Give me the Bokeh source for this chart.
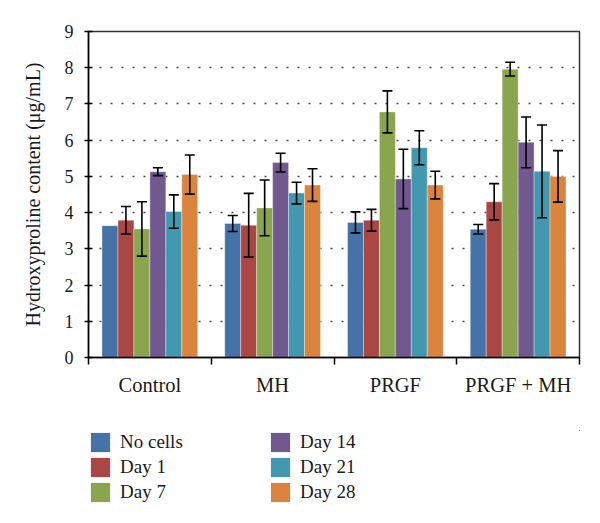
from bokeh.plotting import figure
from bokeh.layouts import column
from bokeh.models import (ColumnDataSource, Whisker, TeeHead, FixedTicker, Legend,
                          LegendItem, Range1d)
from bokeh.embed import file_html
from bokeh.resources import INLINE

groups = ["Control", "MH", "PRGF", "PRGF + MH"]
series = ["No cells", "Day 1", "Day 7", "Day 14", "Day 21", "Day 28"]
colors = ["#4572A7", "#AA4643", "#89A54E", "#71588F", "#4198AF", "#DB843D"]

no_cells = [3.64, 3.70, 3.73, 3.54]
day1 = [3.79, 3.65, 3.79, 4.30]
day7 = [3.55, 4.13, 6.78, 7.96]
day14 = [5.13, 5.38, 4.93, 5.94]
day21 = [4.03, 4.54, 5.79, 5.14]
day28 = [5.05, 4.76, 4.76, 5.00]

err_no_cells = [0.00, 0.22, 0.29, 0.13]
err_day1 = [0.38, 0.88, 0.30, 0.50]
err_day7 = [0.75, 0.77, 0.58, 0.19]
err_day14 = [0.11, 0.26, 0.82, 0.70]
err_day21 = [0.46, 0.30, 0.47, 1.28]
err_day28 = [0.54, 0.45, 0.38, 0.71]

values = [no_cells, day1, day7, day14, day21, day28]
errors = [err_no_cells, err_day1, err_day7, err_day14, err_day21, err_day28]

y_ticks = [0, 1, 2, 3, 4, 5, 6, 7, 8, 9]

FONT = "Liberation Serif"
W = 592

p = figure(width=W, height=418, output_backend="svg", toolbar_location=None,
           x_range=Range1d(0, len(groups)), y_range=Range1d(0, 9),
           min_border_left=88, min_border_right=W - 579, min_border_top=31,
           min_border_bottom=61)

# legend panel (its own small figure below the chart); its copies of the bars
# lie outside its visible ranges, they only provide the legend keys
lg = figure(width=W, height=98, output_backend="svg", toolbar_location=None,
            x_range=Range1d(-1000, -999), y_range=Range1d(-1000, -999),
            min_border_left=71, min_border_right=0, min_border_top=12,
            min_border_bottom=0)
lg.axis.visible = False
lg.grid.visible = False
lg.outline_line_color = None

bar_w = 0.13
n = len(series)
items = []
for k, (name, vals, errs, col) in enumerate(zip(series, values, errors, colors)):
    xs = [gi + 0.5 + (k - (n - 1) / 2) * bar_w for gi in range(len(groups))]
    src = ColumnDataSource(dict(x=xs, top=vals))
    p.vbar(x="x", top="top", width=bar_w, source=src, fill_color=col,
           line_color="white", line_alpha=0.35, line_width=1)
    r = lg.vbar(x="x", top="top", width=bar_w, source=src, fill_color=col,
                line_color=None)
    items.append(LegendItem(label=name, renderers=[r]))
    wsrc = ColumnDataSource(dict(
        x=[x for x, e in zip(xs, errs) if e > 0],
        upper=[v + e for v, e in zip(vals, errs) if e > 0],
        lower=[v - e for v, e in zip(vals, errs) if e > 0]))
    w = Whisker(base="x", upper="upper", lower="lower", source=wsrc,
                level="annotation",
                line_color="black", line_width=1.6,
                upper_head=TeeHead(size=10, line_color="black", line_width=1.6),
                lower_head=TeeHead(size=10, line_color="black", line_width=1.6))
    p.add_layout(w)

# axes
p.xaxis.ticker = FixedTicker(ticks=[i + 0.5 for i in range(len(groups))],
                             minor_ticks=list(range(len(groups) + 1)))
p.xaxis.major_label_overrides = {i + 0.5: g for i, g in enumerate(groups)}
p.xaxis.major_tick_line_color = None
p.xaxis.major_tick_out = 0
p.xaxis.minor_tick_out = 7
p.xaxis.minor_tick_in = 0
p.xaxis.minor_tick_line_color = "black"
p.xaxis.minor_tick_line_width = 1.5
p.xaxis.major_label_standoff = 9
p.xaxis.major_label_text_font = FONT
p.xaxis.major_label_text_font_size = "20.5px"
p.xaxis.major_label_text_color = "#1a1a1a"

p.yaxis.ticker = FixedTicker(ticks=y_ticks)
p.yaxis.minor_tick_line_color = None
p.yaxis.major_tick_in = 4
p.yaxis.major_tick_out = 4
p.yaxis.major_tick_line_width = 1.5
p.yaxis.major_tick_line_color = "black"
p.yaxis.major_label_standoff = 11
p.yaxis.major_label_text_font = FONT
p.yaxis.major_label_text_font_size = "18px"
p.yaxis.major_label_text_color = "#1a1a1a"
p.yaxis.axis_label = "Hydroxyproline content (μg/mL)"
p.yaxis.axis_label_text_font = FONT
p.yaxis.axis_label_text_font_style = "normal"
p.yaxis.axis_label_text_font_size = "20px"
p.yaxis.axis_label_text_color = "#1a1a1a"
p.yaxis.axis_label_standoff = 18

for ax in (p.xaxis, p.yaxis):
    ax.axis_line_color = "black"
    ax.axis_line_width = 1.5

p.xgrid.grid_line_color = None
p.ygrid.grid_line_color = "#444444"
p.ygrid.grid_line_dash = "2 9"
p.ygrid.grid_line_width = 1.5

p.outline_line_color = "#333333"
p.outline_line_width = 1.5
p.background_fill_color = "white"
p.border_fill_color = "white"

legend = Legend(items=items, location="top_left", orientation="vertical",
                nrows=3, glyph_width=24, glyph_height=24, label_standoff=8,
                label_width=147, label_height=19, spacing=1, padding=0,
                margin=0, border_line_color=None, background_fill_alpha=0,
                label_text_font=FONT, label_text_font_size="19px",
                label_text_color="#1a1a1a")
lg.add_layout(legend, "center")

layout = column(p, lg, spacing=0)
open("out.html", "w").write(file_html(layout, INLINE))
